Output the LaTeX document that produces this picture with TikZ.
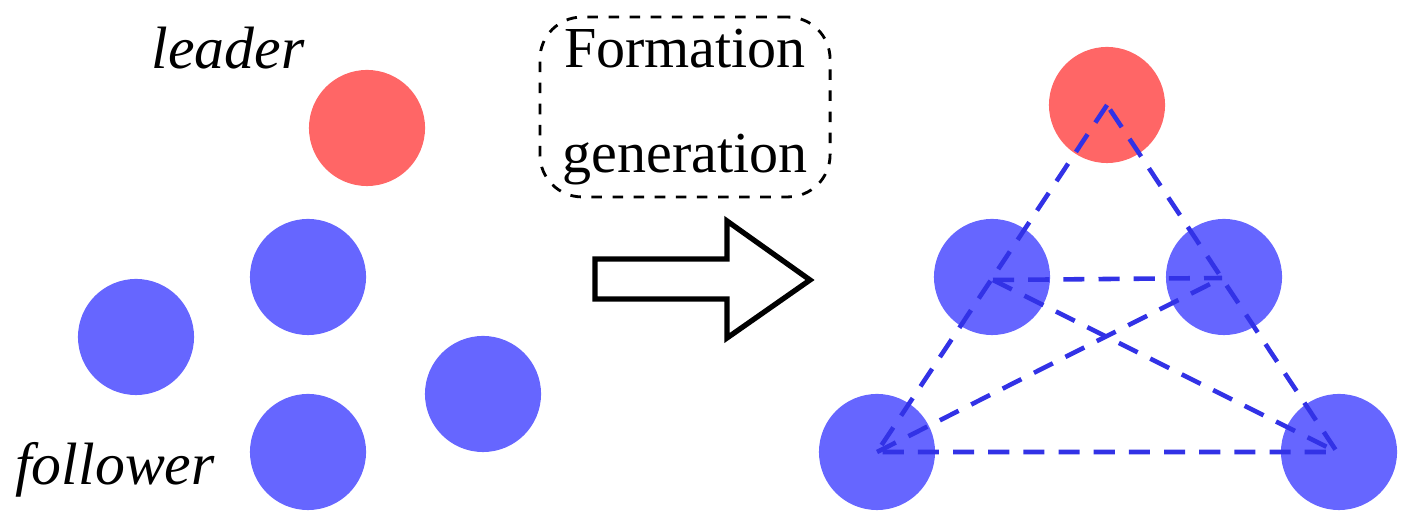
\documentclass[tikz,border=0pt]{standalone}
\usepackage{fontspec}
\setmainfont{Liberation Serif}
\definecolor{lred}{RGB}{255,102,102}
\definecolor{lblue}{RGB}{102,102,255}
\definecolor{dblue}{RGB}{50,50,230}
\begin{document}
\begin{tikzpicture}[x=0.01cm,y=-0.01cm,
  ag/.style={circle,minimum size=1.16cm,inner sep=0pt},
  L/.style={ag,fill=lred}, F/.style={ag,fill=lblue},
  link/.style={dblue,dashed,line width=1.3pt,dash pattern=on 6pt off 4pt},
  lab/.style={font=\fontsize{17pt}{20pt}\selectfont\itshape}]
\useasboundingbox (0,0) rectangle (1409,525);
\node[L] (l1) at (367,128) {};
\node[F] (f1) at (308,277) {};
\node[F] (f2) at (136,337) {};
\node[F] (f3) at (483,394) {};
\node[F] (f4) at (308,452) {};
\node[lab] (tl) at (228,48) {leader};
\node[lab] (tf) at (115,470) {follower};
\node[draw,dashed,rounded corners=12pt,minimum width=2.9cm,minimum height=1.75cm,align=center,
  font=\fontsize{16.5pt}{30pt}\selectfont,line width=0.8pt] (box) at (685,107) {Formation\\generation};
\draw[line width=1.5pt,fill=white] (595,259) -- (727,259) -- (727,221) -- (810,280) -- (727,338) -- (727,299) -- (595,299) -- cycle;
\node[L] (r0) at (1107,105) {};
\node[F] (r1) at (992,277) {};
\node[F] (r2) at (1224,277) {};
\node[F] (r3) at (877,452) {};
\node[F] (r4) at (1339,452) {};
\coordinate (c0) at (1107,105);
\coordinate (c1) at (993,280);
\coordinate (c2) at (1222,278);
\coordinate (c3) at (877,452);
\coordinate (c4) at (1337,452);
\draw[link] (c0) -- (c3) -- (c4) -- cycle;
\draw[link] (c1) -- (c2);
\draw[link] (c1) -- (c4);
\draw[link] (c3) -- (c2);
\end{tikzpicture}
\end{document}
